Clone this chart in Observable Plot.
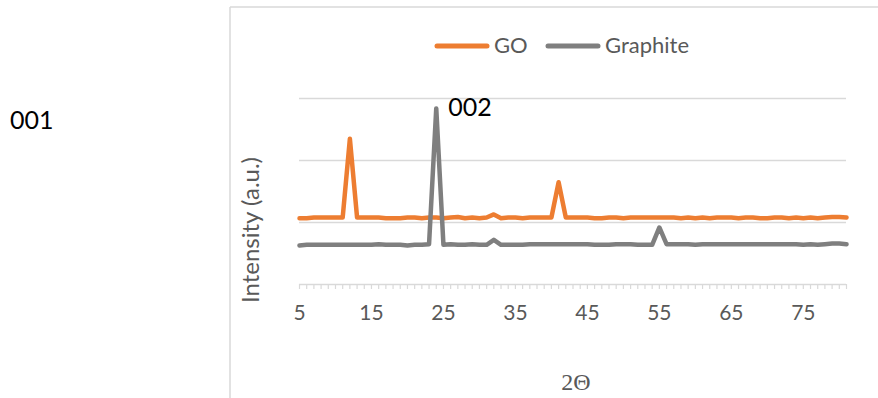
<!DOCTYPE html>
<html>
<head>
<meta charset="utf-8">
<script src="https://cdn.jsdelivr.net/npm/d3@7"></script>
<script src="https://cdn.jsdelivr.net/npm/@observablehq/plot@0.6"></script>
<style>
  html, body { margin: 0; padding: 0; background: #fff; }
  #wrap { position: relative; width: 878px; height: 398px; overflow: hidden; font-family: Lato, "Open Sans", sans-serif; }
  #overlay { position: absolute; left: 0; top: 0; pointer-events: none; }
</style>
</head>
<body>
<div id="wrap"></div>
<script>
// 2θ categories (one per degree)
const angles = d3.range(5, 82);
// tick labels on the x axis
const xTickLabels = [5, 15, 25, 35, 45, 55, 65, 75];
// gridline values (arbitrary intensity units)
const gridValues = [1, 2, 3];
// series names
const seriesNames = ["GO", "Graphite"];
const seriesColors = ["#ED7D31", "#7F7F7F"];

// GO intensity, 2θ = 5..81
const goValues = [
  1.07, 1.07, 1.08, 1.08, 1.08, 1.08, 1.08, 2.35, 1.08, 1.08,
  1.08, 1.08, 1.07, 1.07, 1.07, 1.08, 1.08, 1.07, 1.08, 1.08,
  1.07, 1.08, 1.09, 1.07, 1.08, 1.07, 1.08, 1.13, 1.07, 1.08,
  1.08, 1.07, 1.08, 1.08, 1.08, 1.08, 1.65, 1.08, 1.08, 1.08,
  1.08, 1.07, 1.07, 1.08, 1.08, 1.07, 1.08, 1.08, 1.08, 1.08,
  1.08, 1.08, 1.08, 1.07, 1.08, 1.07, 1.08, 1.07, 1.08, 1.08,
  1.08, 1.07, 1.08, 1.08, 1.07, 1.07, 1.08, 1.08, 1.07, 1.08,
  1.07, 1.08, 1.07, 1.08, 1.09, 1.09, 1.08
];
// Graphite intensity, 2θ = 5..81
const graphiteValues = [
  0.63, 0.64, 0.64, 0.64, 0.64, 0.64, 0.64, 0.64, 0.64, 0.64,
  0.64, 0.65, 0.64, 0.64, 0.64, 0.63, 0.64, 0.64, 0.65, 2.84,
  0.64, 0.65, 0.64, 0.64, 0.65, 0.64, 0.64, 0.72, 0.64, 0.64,
  0.64, 0.64, 0.65, 0.65, 0.65, 0.65, 0.65, 0.65, 0.65, 0.65,
  0.65, 0.64, 0.64, 0.64, 0.65, 0.65, 0.65, 0.64, 0.64, 0.64,
  0.92, 0.65, 0.65, 0.65, 0.65, 0.64, 0.65, 0.65, 0.65, 0.65,
  0.65, 0.65, 0.65, 0.65, 0.65, 0.65, 0.65, 0.65, 0.65, 0.65,
  0.64, 0.65, 0.64, 0.65, 0.66, 0.66, 0.65
];
// peak annotations
const peakLabels = [{x: 24, y: 2.84, text: "002"}];

const rows = [];
angles.forEach((a, i) => {
  rows.push({angle: a, value: goValues[i], series: seriesNames[0]});
});
angles.forEach((a, i) => {
  rows.push({angle: a, value: graphiteValues[i], series: seriesNames[1]});
});

const axisColor = "#D9D9D9";
const textColor = "#595959";

const chart = Plot.plot({
  width: 878,
  height: 398,
  marginLeft: 299,
  marginRight: 32,
  marginTop: 98,
  marginBottom: 114,
  style: {fontFamily: "Lato, 'Open Sans', sans-serif", background: "transparent", overflow: "visible"},
  x: {domain: [5, 81], axis: null},
  y: {domain: [0, 3], axis: null},
  color: {domain: seriesNames, range: seriesColors},
  marks: [
    Plot.gridY(gridValues, {stroke: axisColor, strokeOpacity: 1, strokeWidth: 1.5}),
    Plot.ruleY([0], {stroke: axisColor, strokeWidth: 1.5}),
    Plot.axisX(angles, {tickSize: 5, text: null, stroke: axisColor, strokeOpacity: 1, strokeWidth: 1.2}),
    Plot.axisX(xTickLabels, {tickSize: 0, tickPadding: 21, fontSize: 21, fill: textColor, label: null, tickFormat: d => String(d)}),
    Plot.line(rows, {x: "angle", y: "value", z: "series", stroke: "series", strokeWidth: 4.5, strokeLinejoin: "round", strokeLinecap: "round"}),
    Plot.text(peakLabels, {x: "x", y: "y", text: "text", textAnchor: "start", lineAnchor: "middle", dx: 12, dy: 0, fontSize: 25, fill: "#000"})
  ]
});

const wrap = document.getElementById("wrap");
wrap.appendChild(chart);

// overlay: chart-area border, legend, axis titles, outside annotation
const svgNS = "http://www.w3.org/2000/svg";
const ov = document.createElementNS(svgNS, "svg");
ov.setAttribute("id", "overlay");
ov.setAttribute("width", 878);
ov.setAttribute("height", 398);
function el(tag, attrs, txt) {
  const e = document.createElementNS(svgNS, tag);
  for (const k in attrs) e.setAttribute(k, attrs[k]);
  if (txt != null) e.textContent = txt;
  ov.appendChild(e);
  return e;
}
el("line", {x1: 230, y1: 7, x2: 878, y2: 7, stroke: axisColor, "stroke-width": 1.5});
el("line", {x1: 230, y1: 7, x2: 230, y2: 398, stroke: axisColor, "stroke-width": 1.5});

// legend
const legendItems = [
  {x: 435, name: seriesNames[0], color: seriesColors[0]},
  {x: 546, name: seriesNames[1], color: seriesColors[1]}
];
legendItems.forEach(it => {
  el("line", {x1: it.x + 2, y1: 46, x2: it.x + 52, y2: 46, stroke: it.color, "stroke-width": 5, "stroke-linecap": "round"});
  el("text", {x: it.x + 59, y: 53, fill: textColor, "font-size": 22, "font-family": "Lato, sans-serif"}, it.name);
});

// y-axis title
el("text", {x: 0, y: 0, transform: "translate(259,230) rotate(-90)", "text-anchor": "middle", fill: textColor, "font-size": 24, "font-family": "Lato, sans-serif"}, "Intensity (a.u.)");
// x-axis title
el("text", {x: 576, y: 390, "text-anchor": "middle", fill: textColor, "font-size": 24, "font-family": "'Liberation Serif', 'DejaVu Serif', serif"}, "2Θ");
// annotation outside the plot
el("text", {x: 10, y: 129, fill: "#000", "font-size": 25, "font-family": "Lato, sans-serif"}, "001");

wrap.appendChild(ov);
</script>
</body>
</html>
